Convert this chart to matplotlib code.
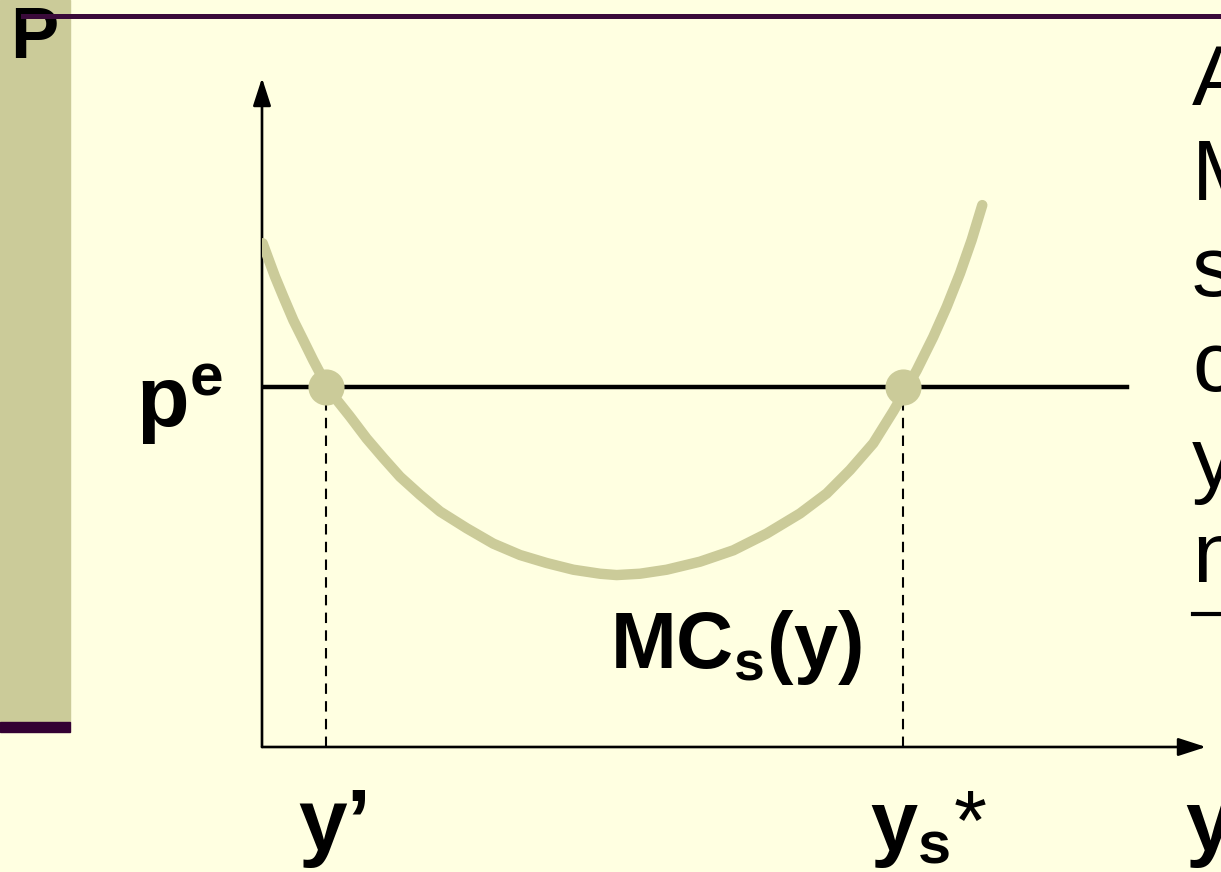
import matplotlib
matplotlib.use('Agg')
import matplotlib.pyplot as plt
from matplotlib.patches import Rectangle
from matplotlib.lines import Line2D

plt.rcParams['font.family'] = ['Liberation Sans', 'DejaVu Sans']
plt.rcParams['mathtext.fontset'] = 'custom'
plt.rcParams['mathtext.rm'] = 'Liberation Sans'
plt.rcParams['mathtext.bf'] = 'Liberation Sans:bold'
plt.rcParams['mathtext.it'] = 'Liberation Sans:italic'

# marginal cost curve (output y, cost)
q = [0.007, 0.067, 0.138, 0.226, 0.332, 0.438, 0.543, 0.678, 0.791, 0.932,
     1.109, 1.285, 1.462, 1.674, 1.886, 2.168, 2.450, 2.733, 3.016, 3.298,
     3.581, 3.757, 4.004, 4.287, 4.640, 4.993, 5.346, 5.699, 5.982, 6.229,
     6.476, 6.688, 6.790, 6.935, 7.111, 7.253, 7.394, 7.518, 7.630]
mc = [7.53, 7.30, 7.03, 6.73, 6.38, 6.08, 5.78, 5.42, 5.19, 4.94,
      4.61, 4.32, 4.04, 3.77, 3.52, 3.27, 3.04, 2.87, 2.75, 2.65,
      2.59, 2.57, 2.59, 2.65, 2.77, 2.94, 3.19, 3.49, 3.79, 4.14,
      4.54, 5.02, 5.27, 5.63, 6.13, 6.58, 7.08, 7.58, 8.10]
p_e = 5.38
price_end = 9.16
y_prime = 0.68
y_star = 6.79
side_letters = ['A', 'M', 's', 'c', 'y', 'n']

bg = '#FFFFE1'
olive = '#CBCB99'
purple = '#330033'

fig = plt.figure(figsize=(12.21, 8.72), dpi=100, facecolor=bg)

# slide decoration
fig.patches.append(Rectangle((0, 1 - 722/872), 70/1221, 722/872,
                             transform=fig.transFigure, color=olive, zorder=0))
fig.patches.append(Rectangle((0, 1 - 732/872), 70/1221, 10/872,
                             transform=fig.transFigure, color=purple, zorder=0))
fig.text(10/1221, 1 - 58/872, 'P', fontsize=52, fontweight='bold', va='baseline')
fig.lines.append(Line2D([23/1221, 1], [1 - 16.5/872] * 2, transform=fig.transFigure,
                        color='#3a0a3a', lw=3.6, zorder=5))

# cut-off text on the right
for i, s in enumerate(side_letters):
    fig.text(1192/1221, 1 - (105 + 95.4*i)/872, s, fontsize=62, va='baseline')
fig.lines.append(Line2D([1193/1221, 1], [1 - 614/872] * 2, transform=fig.transFigure,
                        color='black', lw=3))

ax = fig.add_axes([262/1221, 125/872, 944/1221, 669/872])
ax.set_xlim(0, 10)
ax.set_ylim(0, 10)
ax.axis('off')
ax.patch.set_alpha(0)

arrow = dict(arrowstyle='-|>,head_length=1.7,head_width=0.55', color='black',
             lw=1.9, shrinkA=0, shrinkB=0, mutation_scale=10)
ax.annotate('', xy=(10, 0), xytext=(0, 0), arrowprops=arrow, annotation_clip=False)
ax.annotate('', xy=(0, 10), xytext=(0, 0), arrowprops=arrow, annotation_clip=False)

ax.plot([0, price_end], [p_e, p_e], color='black', lw=3.2, zorder=2)
for xv in [y_prime, y_star]:
    ax.plot([xv, xv], [0, p_e], color='black', lw=1.5, ls=(0, (5, 3.5)), zorder=2)
ax.plot(q, mc, color=olive, lw=7.5, solid_capstyle='round',
        solid_joinstyle='round', zorder=3)
ax.plot([y_prime, y_star], [p_e, p_e], 'o', color=olive, ms=26, mec='none', zorder=4)

ax.text(-1.33, 4.78, r'$\mathbf{p^e}$', fontsize=62, va='baseline', clip_on=False)
ax.text(3.69, 1.18, r'$\mathbf{MC_s(y)}$', fontsize=57, va='baseline')
ax.text(0.77, -1.54, 'y\u2019', fontsize=63, fontweight='bold', ha='center',
        va='baseline', clip_on=False)
ax.text(6.44, -1.54, r'$\mathbf{y_s}$*', fontsize=61, va='baseline', clip_on=False)
ax.text(9.78, -1.54, 'y', fontsize=62, fontweight='bold', va='baseline', clip_on=False)

fig.savefig('out.png', dpi=100, facecolor=bg)
